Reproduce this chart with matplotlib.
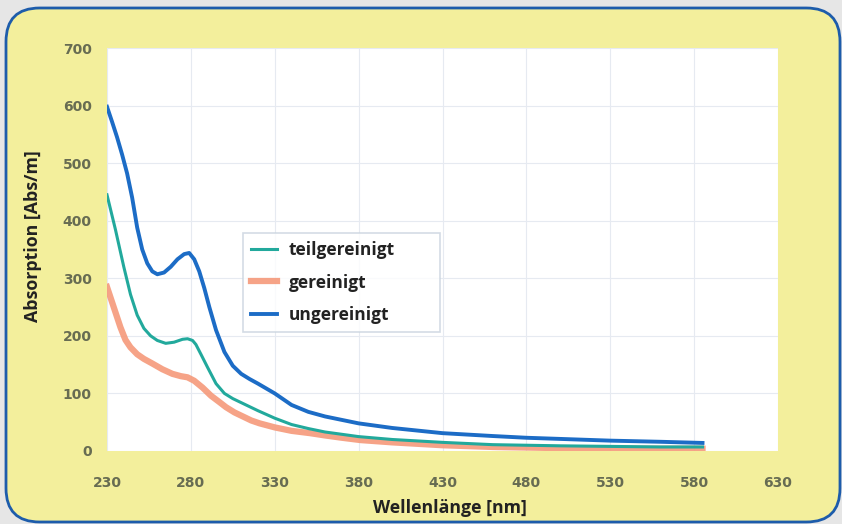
import matplotlib.pyplot as plt
from matplotlib.patches import FancyBboxPatch

# Wellenlaenge [nm] und Absorption [Abs/m]
wl_teil = [230, 235, 240, 244, 248, 252, 256, 260, 265, 270, 275, 278, 281, 283, 286, 290,
           295, 300, 305, 310, 320, 330, 340, 350, 360, 380, 400, 430, 460, 480, 500, 530,
           560, 585]
teilgereinigt = [445, 385, 320, 272, 236, 213, 200, 192, 187, 189, 194, 195, 192, 185, 168, 145,
                 117, 100, 91, 84, 70, 57, 46, 39, 33, 25, 20, 15, 11, 10, 9, 8, 7, 7]

wl_ger = [230, 234, 238, 241, 244, 248, 252, 257, 263, 269, 274, 278, 282, 287, 292, 297,
          301, 306, 311, 316, 321, 330, 340, 351, 360, 370, 381, 400, 430, 460, 480, 500,
          530, 560, 585]
gereinigt = [285, 250, 215, 193, 180, 168, 160, 152, 142, 134, 130, 128, 122, 110, 96, 85,
             76, 67, 60, 53, 48, 41, 35, 31, 27, 23, 19, 15, 10, 7, 6, 5, 4, 4, 4]

wl_unger = [230, 233, 236, 239, 242, 245, 248, 251, 254, 257, 260, 264, 268, 272, 276, 279,
            282, 285, 288, 291, 295, 300, 305, 310, 315, 320, 330, 340, 350, 360, 380, 400,
            430, 460, 480, 500, 530, 560, 585]
ungereinigt = [598, 572, 545, 515, 482, 440, 388, 350, 326, 312, 307, 310, 320, 333, 342, 344,
               333, 312, 283, 250, 210, 172, 148, 134, 125, 117, 100, 80, 68, 60, 48, 40,
               31, 26, 23, 21, 18, 16, 14]

xticks = [230, 280, 330, 380, 430, 480, 530, 580, 630]
yticks = [0, 100, 200, 300, 400, 500, 600, 700]

fig = plt.figure(figsize=(8.42, 5.24), dpi=100, facecolor='#e6e6e6')

# gelber Rahmen mit blauem Rand
box = FancyBboxPatch((6 / 842, 2 / 524), 834 / 842, 514 / 524,
                     boxstyle='round,pad=0,rounding_size=0.04',
                     transform=fig.transFigure, facecolor='#f3ef9c',
                     edgecolor='#1d5cab', linewidth=2, mutation_aspect=842 / 524,
                     zorder=-10)
fig.patches.append(box)

ax = fig.add_axes([107 / 842, 73 / 524, 671 / 842, 403 / 524])
ax.set_zorder(5)
ax.set_facecolor('white')

ax.plot(wl_ger, gereinigt, color='#f5997a', lw=4.5, alpha=0.9, label='gereinigt',
        zorder=2, solid_joinstyle='round')
ax.plot(wl_teil, teilgereinigt, color='#22a99c', lw=2.2, label='teilgereinigt',
        zorder=3, solid_joinstyle='round')
ax.plot(wl_unger, ungereinigt, color='#1c6cc6', lw=2.8, label='ungereinigt',
        zorder=4, solid_joinstyle='round')

ax.set_xlim(230, 630)
ax.set_ylim(0, 700)
ax.set_xticks(xticks)
ax.set_yticks(yticks)
ax.grid(True, color='#e6eaf1', lw=0.8)
ax.set_axisbelow(True)
for s in ax.spines.values():
    s.set_visible(False)
ax.tick_params(length=0, labelsize=10, labelcolor='#676c52')
ax.tick_params(axis='x', pad=18)
ax.tick_params(axis='y', pad=11)
for lab in ax.get_xticklabels() + ax.get_yticklabels():
    lab.set_fontweight('bold')

ax.set_xlabel('Wellenlänge [nm]', fontsize=12.8, fontweight='bold',
              family='Open Sans', color='#222222', va='center')
ax.set_ylabel('Absorption [Abs/m]', fontsize=12.8, fontweight='bold',
              family='Open Sans', color='#222222', va='center')
ax.xaxis.set_label_coords(0.511, -0.141)
ax.yaxis.set_label_coords(-0.110, 0.533)

h, l = ax.get_legend_handles_labels()
order = [1, 0, 2]
leg = ax.legend([h[i] for i in order], [l[i] for i in order],
                loc='upper left', bbox_to_anchor=(0.2027, 0.305, 0.294, 0.236),
                mode='expand',
                prop={'family': 'Open Sans', 'weight': 'bold', 'size': 12.5},
                frameon=True, fancybox=False, edgecolor='#c9d3de',
                handlelength=1.5, handletextpad=0.7, labelspacing=0.85,
                borderpad=0.45, borderaxespad=0)
leg.get_frame().set_linewidth(1.2)
for t in leg.get_texts():
    t.set_color('#222222')

fig.savefig('out.png', dpi=100, facecolor=fig.get_facecolor())
